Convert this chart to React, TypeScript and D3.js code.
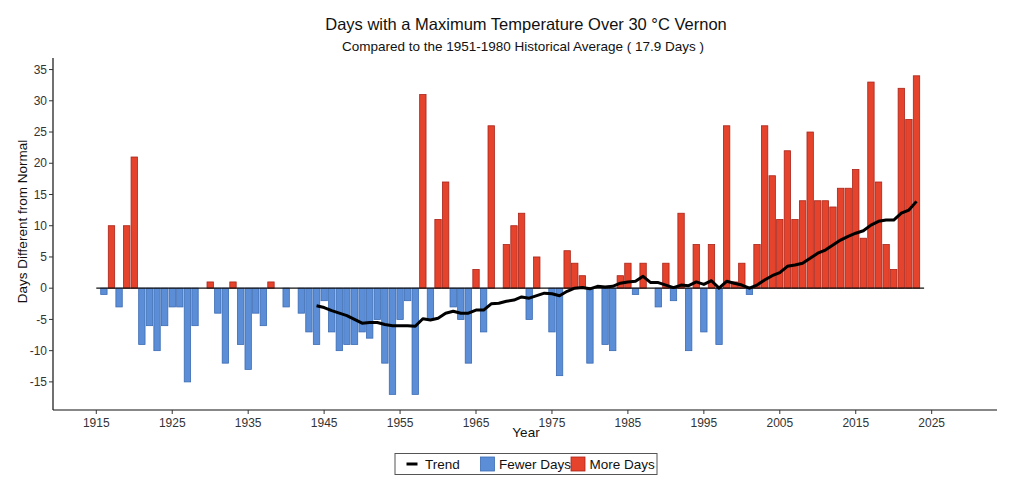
import React from "react";
import * as d3 from "d3";

const years = d3.range(1916, 2024);
const dayDiff = [
  -1, 10, -3, 10, 21, -9, -6, -10, -6, -3, -3, -15, -6, 0, 1, -4, -12, 1, -9, -13,
  -4, -6, 1, 0, -3, 0, -4, -7, -9, -2, -7, -10, -9, -9, -7, -8, -5, -12, -17, -5,
  -2, -17, 31, -5, 11, 17, -3, -5, -12, 3, -7, 26, 0, 7, 10, 12, -5, 5, 0, -7,
  -14, 6, 4, 2, -12, 0, -9, -10, 2, 4, -1, 4, 0, -3, 4, -2, 12, -10, 7, -7,
  7, -9, 26, 1, 4, -1, 7, 26, 18, 11, 22, 11, 14, 25, 14, 14, 13, 16, 16, 19,
  8, 33, 17, 7, 3, 32, 27, 34,
];

const trendYears = d3.range(1944, 2024);
const trendValues = [
  -2.8, -3.1, -3.6, -4.0, -4.4, -5.0, -5.6, -5.5, -5.5, -5.8, -6.0, -6.0, -6.0, -6.1,
  -4.9, -5.1, -4.8, -4.0, -3.7, -4.0, -4.0, -3.5, -3.5, -2.5, -2.4, -2.1, -1.9, -1.4,
  -1.6, -1.2, -0.8, -0.9, -1.2, -0.5, 0.0, 0.1, -0.1, 0.3, 0.2, 0.3, 0.8, 1.0, 1.1,
  1.9, 0.9, 0.9, 0.5, 0.1, 0.5, 0.4, 1.0, 0.6, 1.2, 0.0, 1.1, 0.8, 0.5, 0.0, 0.5,
  1.3, 2.0, 2.5, 3.5, 3.7, 4.0, 4.8, 5.6, 6.1, 6.9, 7.7, 8.3, 8.8, 9.2, 10.1, 10.7,
  10.9, 10.9, 12.0, 12.5, 13.9,
];

const xTicks = [1915, 1925, 1935, 1945, 1955, 1965, 1975, 1985, 1995, 2005, 2015, 2025];
const yTicks = [-15, -10, -5, 0, 5, 10, 15, 20, 25, 30, 35];

const FONT = "'Liberation Sans', Arial, Helvetica, sans-serif";
const BLUE = "#5b8ed6";
const BLUE_EDGE = "#3b6bb3";
const RED = "#e5432b";
const RED_EDGE = "#a8241a";

export default function App() {
  const width = 1024;
  const height = 486;
  const left = 53;
  const right = 997;
  const top = 58;
  const bottom = 410;

  const x = d3.scaleLinear().domain([1909.3, 2033.6]).range([left, right]);
  const y = d3.scaleLinear().domain([-19.5, 36.85]).range([bottom, top]);
  const barW = (x(1916) - x(1915)) * 0.84;

  const line = d3
    .line<number>()
    .x((_, i) => x(trendYears[i]))
    .y((d) => y(d))
    .curve(d3.curveLinear);

  return (
    <svg
      width={width}
      height={height}
      style={{ position: "absolute", left: 0, top: 0, background: "#fff" }}
      fontFamily={FONT}
    >
      {/* titles */}
      <text x={526} y={30} textAnchor="middle" fontSize={16.5} fill="#111">
        Days with a Maximum Temperature Over 30 °C Vernon
      </text>
      <text x={523} y={51} textAnchor="middle" fontSize={13.5} fill="#111">
        Compared to the 1951-1980 Historical Average ( 17.9 Days )
      </text>

      {/* bars */}
      <g>
        {years.map((yr, i) => {
          const v = dayDiff[i];
          if (v === 0) return null;
          const pos = v > 0;
          return (
            <rect
              key={yr}
              x={x(yr) - barW / 2}
              y={y(Math.max(0, v))}
              width={barW}
              height={Math.abs(y(v) - y(0))}
              fill={pos ? RED : BLUE}
              stroke={pos ? RED_EDGE : BLUE_EDGE}
              strokeWidth={0.8}
            />
          );
        })}
      </g>

      {/* zero line */}
      <line x1={x(1915)} x2={x(2024)} y1={y(0)} y2={y(0)} stroke="#111" strokeWidth={1.3} />

      {/* trend */}
      <path d={line(trendValues) || ""} fill="none" stroke="#000" strokeWidth={3} strokeLinejoin="round" />

      {/* axes */}
      <line x1={left} x2={left} y1={top} y2={bottom} stroke="#111" strokeWidth={1.2} />
      <line x1={left} x2={right} y1={bottom} y2={bottom} stroke="#111" strokeWidth={1.2} />
      {yTicks.map((t) => (
        <g key={t} transform={`translate(${left},${y(t)})`}>
          <line x1={-4} x2={0} stroke="#333" />
          <text x={-6} dy="0.35em" textAnchor="end" fontSize={12} fill="#333">
            {t}
          </text>
        </g>
      ))}
      {xTicks.map((t) => (
        <g key={t} transform={`translate(${x(t)},${bottom})`}>
          <line y1={0} y2={4} stroke="#333" />
          <text y={17} textAnchor="middle" fontSize={12} fill="#333">
            {t}
          </text>
        </g>
      ))}
      <text x={526} y={437} textAnchor="middle" fontSize={13.5} fill="#111">
        Year
      </text>
      <text
        transform={`translate(27,${221.5}) rotate(-90)`}
        textAnchor="middle"
        fontSize={13.5}
        fill="#111"
      >
        Days Different from Normal
      </text>

      {/* legend */}
      <g>
        <rect x={395} y={453.5} width={262} height={21} fill="#fff" stroke="#555" strokeWidth={1} />
        <line x1={406.5} x2={417.5} y1={464} y2={464} stroke="#000" strokeWidth={3} />
        <text x={425} y={468.5} fontSize={13.5} fill="#111">Trend</text>
        <rect x={480.5} y={457} width={14} height={14} fill={BLUE} stroke={BLUE_EDGE} strokeWidth={0.8} />
        <text x={499} y={468.5} fontSize={13.5} fill="#111">Fewer Days</text>
        <rect x={571} y={457} width={14} height={14} fill={RED} stroke={RED_EDGE} strokeWidth={0.8} />
        <text x={589.5} y={468.5} fontSize={13.5} fill="#111">More Days</text>
      </g>
    </svg>
  );
}
